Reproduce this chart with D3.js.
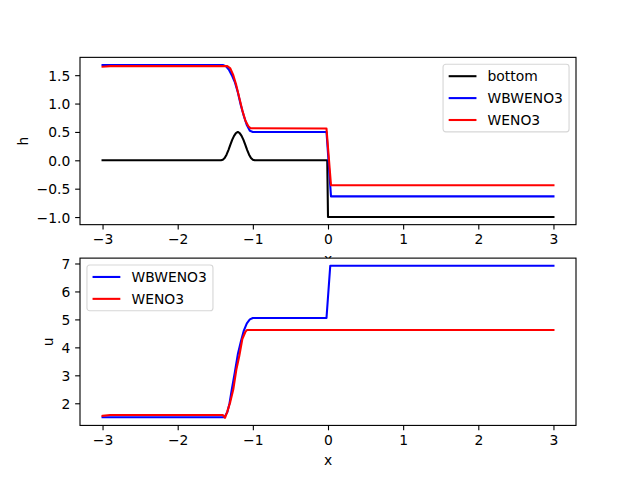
<!DOCTYPE html>
<html>
<head>
<meta charset="utf-8">
<script src="https://cdn.jsdelivr.net/npm/d3@7"></script>
<style>
  body { margin: 0; background: white; }
  text { font-family: "DejaVu Sans", sans-serif; }
</style>
</head>
<body>
<script>
// tick values
var xTicks = [-3, -2, -1, 0, 1, 2, 3];
var hTicks = [-1.0, -0.5, 0.0, 0.5, 1.0, 1.5];
var uTicks = [2, 3, 4, 5, 6, 7];

// top panel: h
var bottomX = [-3, -1.425, -1.4, -1.375, -1.35, -1.325, -1.3, -1.275, -1.25, -1.225, -1.2,
	-1.175, -1.15, -1.125, -1.1, -1.075, -1.05, -1.025, -1.0, -0.975, -0.01, 0.0, 3];
var bottomH = [0, 0, 0.01, 0.04, 0.1, 0.18, 0.27, 0.36, 0.43, 0.48, 0.5,
	0.48, 0.43, 0.36, 0.27, 0.18, 0.1, 0.04, 0.01, 0, 0, -1, -1];

var wbX = [-3, -1.4, -1.36, -1.32, -1.28, -1.24, -1.2, -1.16, -1.12, -1.08, -1.04, -1.0, -0.02, 0.04, 3];
var wbH = [1.68, 1.68, 1.66, 1.6, 1.5, 1.38, 1.2, 0.97, 0.78, 0.62, 0.52, 0.5, 0.5, -0.635, -0.635];

var wenoX = [-3, -2.9, -1.34, -1.3, -1.26, -1.22, -1.18, -1.14, -1.1, -1.06, -1.03, -0.02, 0.04, 3];
var wenoH = [1.65, 1.66, 1.66, 1.62, 1.5, 1.32, 1.1, 0.88, 0.7, 0.6, 0.565, 0.56, -0.44, -0.44];

// bottom panel: u
var wbUX = [-3, -1.38, -1.34, -1.31, -1.28, -1.24, -1.2, -1.16, -1.12, -1.08, -1.04, -1.0, -0.02, 0.03, 3];
var wbU = [1.5, 1.5, 1.68, 2.0, 2.5, 3.1, 3.75, 4.2, 4.6, 4.86, 5.0, 5.05, 5.05, 6.92, 6.92];

var wenoUX = [-3, -2.9, -1.4, -1.37, -1.34, -1.3, -1.26, -1.22, -1.18, -1.14, -1.1, -1.08, 3];
var wenoU = [1.55, 1.58, 1.58, 1.48, 1.7, 2.05, 2.5, 3.2, 3.7, 4.3, 4.55, 4.62, 4.62];

var W = 640, H = 478;
var fs = 13.89;          // 10pt at 100 dpi
var lw = 2.08;           // 1.5pt line
var tick = 4.86, pad = 4.86;
var left = 80, right = 576;
var axH = 167.3;

var svg = d3.select("body").append("svg")
	.attr("width", W)
	.attr("height", H);

function zipPts(xs, ys) {
	return xs.map(function(x, i) { return [x, ys[i]]; });
}

function padExtent(vals) {
	var e = d3.extent(vals);
	var m = (e[1] - e[0]) * 0.05;
	return [e[0] - m, e[1] + m];
}

var allX = [].concat(wbX, wenoX, wbUX, wenoUX);
var x = d3.scaleLinear().domain(padExtent(allX)).range([left, right]);

function panel(top, series, yTicks, yFmt, yLabel, legendPos) {
	var g = svg.append("g");
	var allY = [];
	series.forEach(function(s) { allY = allY.concat(s.pts.map(function(p) { return p[1]; })); });
	var y = d3.scaleLinear().domain(padExtent(allY)).range([top + axH, top]);

	g.append("rect")
		.attr("x", left).attr("y", top)
		.attr("width", right - left).attr("height", axH)
		.attr("fill", "white");

	var line = d3.line()
		.x(function(d) { return x(d[0]); })
		.y(function(d) { return y(d[1]); });

	series.forEach(function(s) {
		g.append("path")
			.datum(s.pts)
			.attr("d", line)
			.attr("fill", "none")
			.attr("stroke", s.color)
			.attr("stroke-width", lw)
			.attr("stroke-linejoin", "round")
			.attr("stroke-linecap", "square");
	});

	// frame
	g.append("rect")
		.attr("x", left).attr("y", top)
		.attr("width", right - left).attr("height", axH)
		.attr("fill", "none")
		.attr("stroke", "black")
		.attr("stroke-width", 1.11);

	var xa = g.append("g")
		.attr("transform", "translate(0," + (top + axH) + ")")
		.call(d3.axisBottom(x).tickValues(xTicks).tickFormat(d3.format("d"))
			.tickSize(tick).tickPadding(pad));
	var ya = g.append("g")
		.attr("transform", "translate(" + left + ",0)")
		.call(d3.axisLeft(y).tickValues(yTicks).tickFormat(yFmt)
			.tickSize(tick).tickPadding(pad));

	[xa, ya].forEach(function(a) {
		a.select(".domain").remove();
		a.selectAll("line").attr("stroke", "black").attr("stroke-width", 1.11);
		a.selectAll("text")
			.attr("font-family", "DejaVu Sans")
			.attr("font-size", fs)
			.attr("fill", "black");
		a.attr("font-size", null).attr("font-family", null);
	});
	ya.selectAll("text").attr("dy", "0.36em");

	// y label left of widest tick label
	var minX = left;
	ya.selectAll("text").each(function() {
		var b = this.getBBox();
		minX = Math.min(minX, left + b.x);
	});
	g.append("text")
		.attr("transform", "translate(" + (minX - 5.56 - 3.3) + "," + (top + axH / 2) + ") rotate(-90)")
		.attr("text-anchor", "middle")
		.attr("font-size", fs)
		.text(yLabel);

	// x label
	g.append("text")
		.attr("x", (left + right) / 2)
		.attr("y", top + axH + 39.6)
		.attr("text-anchor", "middle")
		.attr("font-size", fs)
		.text("x");

	// legend
	var lgW = 126, rowH = 21.9, first = 11.9;
	var lgH = 2 * first + (series.length - 1) * rowH;
	var lx = legendPos === "right" ? right - 6.94 - lgW : left + 6.94;
	var ly = top + 6.94;
	var lg = g.append("g").attr("transform", "translate(" + lx + "," + ly + ")");
	lg.append("rect")
		.attr("width", lgW).attr("height", lgH)
		.attr("rx", 2.8).attr("ry", 2.8)
		.attr("fill", "white").attr("fill-opacity", 0.8)
		.attr("stroke", "#cccccc").attr("stroke-opacity", 0.8)
		.attr("stroke-width", 1.11);
	series.forEach(function(s, i) {
		var cy = first + i * rowH;
		lg.append("line")
			.attr("x1", 5.6).attr("x2", 5.6 + 27.8)
			.attr("y1", cy).attr("y2", cy)
			.attr("stroke", s.color)
			.attr("stroke-width", lw);
		lg.append("text")
			.attr("x", 44.5).attr("y", cy)
			.attr("dy", "0.36em")
			.attr("font-size", fs)
			.text(s.name);
	});
}

var topTop = 57.36;
var botTop = 258.12;

panel(topTop, [
	{name: "bottom", color: "black", pts: zipPts(bottomX, bottomH)},
	{name: "WBWENO3", color: "blue", pts: zipPts(wbX, wbH)},
	{name: "WENO3", color: "red", pts: zipPts(wenoX, wenoH)}
], hTicks, d3.format(".1f"), "h", "right");

panel(botTop, [
	{name: "WBWENO3", color: "blue", pts: zipPts(wbUX, wbU)},
	{name: "WENO3", color: "red", pts: zipPts(wenoUX, wenoU)}
], uTicks, d3.format("d"), "u", "left");
</script>
</body>
</html>
